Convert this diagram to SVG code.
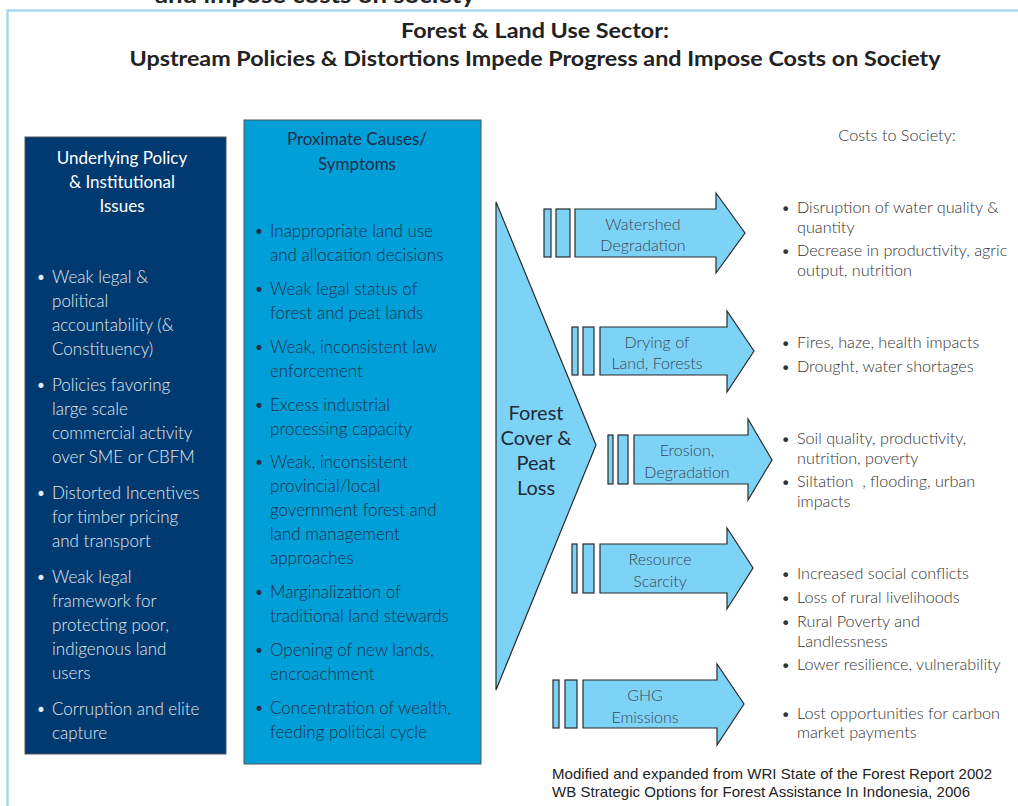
<svg xmlns="http://www.w3.org/2000/svg" width="1018" height="806" viewBox="0 0 1018 806">
<style>
  .ttl{font-family:Lato,"Liberation Sans",sans-serif;font-weight:700;fill:#222;}
  .lt{font-family:Lato,"Liberation Sans",sans-serif;font-weight:300;font-size:17px;fill:#e4e8ef;}
  .mt{font-family:Lato,"Liberation Sans",sans-serif;font-weight:300;font-size:17px;fill:#1c2e48;}
  .rt{font-family:Lato,"Liberation Sans",sans-serif;font-weight:300;font-size:16.2px;fill:#333;}
  .al{font-family:Lato,"Liberation Sans",sans-serif;font-weight:300;font-size:16px;fill:#3b4756;text-anchor:middle;}
  .fc{font-family:Lato,"Liberation Sans",sans-serif;font-weight:400;font-size:20px;fill:#1e2a36;text-anchor:middle;}
  .ft{font-family:"Liberation Sans",Arial,sans-serif;font-size:15px;fill:#222;}
  .shape{fill:#7dd3f6;stroke:#2a2a2a;stroke-width:1.2;}
  .frame{stroke:#a9d8ee;stroke-width:2.5;fill:none;}
</style>
<rect width="1018" height="806" fill="#ffffff"/>
<text class="ttl" x="155" y="3" font-size="22" textLength="320" lengthAdjust="spacingAndGlyphs">and impose costs on society</text>
<polyline class="frame" points="1018,10.5 7.5,10.5 7.5,806"/>
<text class="ttl" x="535" y="38" font-size="20" text-anchor="middle" textLength="268" lengthAdjust="spacingAndGlyphs">Forest &amp; Land Use Sector:</text>
<text class="ttl" x="535" y="66" font-size="21" text-anchor="middle" textLength="811" lengthAdjust="spacingAndGlyphs">Upstream Policies &amp; Distortions Impede Progress and Impose Costs on Society</text>

<g id="underlying">
  <rect x="25" y="137" width="201" height="617" fill="#003a70" stroke="#555" stroke-width="1"/>
  <g class="lt" text-anchor="middle" style="font-weight:400;fill:#ffffff">
    <text x="122" y="164">Underlying Policy</text>
    <text x="122" y="188">&amp; Institutional</text>
    <text x="122" y="212">Issues</text>
  </g>
  <g class="lt">
    <text x="36" y="283">•</text><text x="52" y="283">Weak legal &amp;</text>
    <text x="52" y="307">political</text>
    <text x="52" y="331">accountability (&amp;</text>
    <text x="52" y="355">Constituency)</text>
    <text x="36" y="391">•</text><text x="52" y="391">Policies favoring</text>
    <text x="52" y="415">large scale</text>
    <text x="52" y="439">commercial activity</text>
    <text x="52" y="463">over SME or CBFM</text>
    <text x="36" y="499">•</text><text x="52" y="499">Distorted Incentives</text>
    <text x="52" y="523">for timber pricing</text>
    <text x="52" y="547">and transport</text>
    <text x="36" y="583">•</text><text x="52" y="583">Weak legal</text>
    <text x="52" y="607">framework for</text>
    <text x="52" y="631">protecting poor,</text>
    <text x="52" y="655">indigenous land</text>
    <text x="52" y="679">users</text>
    <text x="36" y="715">•</text><text x="52" y="715">Corruption and elite</text>
    <text x="52" y="739">capture</text>
  </g>
</g>

<g id="proximate">
  <rect x="244" y="120" width="237" height="644" fill="#009fd8" stroke="#555" stroke-width="1"/>
  <g class="mt" text-anchor="middle" style="font-weight:400">
    <text x="357" y="145">Proximate Causes/</text>
    <text x="357" y="170">Symptoms</text>
  </g>
  <g class="mt">
    <text x="254" y="237">•</text><text x="270" y="237">Inappropriate land use</text>
    <text x="270" y="261">and allocation decisions</text>
    <text x="254" y="295">•</text><text x="270" y="295">Weak legal status of</text>
    <text x="270" y="319">forest and peat lands</text>
    <text x="254" y="353">•</text><text x="270" y="353">Weak, inconsistent law</text>
    <text x="270" y="377">enforcement</text>
    <text x="254" y="411">•</text><text x="270" y="411">Excess industrial</text>
    <text x="270" y="435">processing capacity</text>
    <text x="254" y="468">•</text><text x="270" y="468">Weak, inconsistent</text>
    <text x="270" y="492">provincial/local</text>
    <text x="270" y="516">government forest and</text>
    <text x="270" y="540">land management</text>
    <text x="270" y="564">approaches</text>
    <text x="254" y="598">•</text><text x="270" y="598">Marginalization of</text>
    <text x="270" y="622">traditional land stewards</text>
    <text x="254" y="656">•</text><text x="270" y="656">Opening of new lands,</text>
    <text x="270" y="680">encroachment</text>
    <text x="254" y="714">•</text><text x="270" y="714">Concentration of wealth,</text>
    <text x="270" y="738">feeding political cycle</text>
  </g>
</g>

<g id="forest-loss">
  <polygon class="shape" points="496,202 596,445 496,690"/>
  <text class="fc" x="536" y="420">Forest</text>
  <text class="fc" x="536" y="445">Cover &amp;</text>
  <text class="fc" x="536" y="470">Peat</text>
  <text class="fc" x="536" y="495">Loss</text>
</g>

<g id="connectors">
  <g id="arrow-watershed">
    <rect class="shape" x="544" y="209" width="7" height="48"/>
    <rect class="shape" x="556" y="209" width="14" height="48"/>
    <polygon class="shape" points="575,209 716,209 716,193 745,233 716,273 716,257 575,257"/>
    <text class="al" x="643" y="230">Watershed</text>
    <text class="al" x="643" y="251">Degradation</text>
  </g>
  <g id="arrow-drying">
    <rect class="shape" x="572" y="327" width="6" height="48"/>
    <rect class="shape" x="583" y="327" width="11" height="48"/>
    <polygon class="shape" points="600,327 727,327 727,311 754,351 727,392 727,375 600,375"/>
    <text class="al" x="657" y="348">Drying of</text>
    <text class="al" x="657" y="369">Land, Forests</text>
  </g>
  <g id="arrow-erosion">
    <rect class="shape" x="608" y="435" width="5" height="49"/>
    <rect class="shape" x="618" y="435" width="10" height="49"/>
    <polygon class="shape" points="634,435 748,435 748,419 772,460 748,500 748,484 634,484"/>
    <text class="al" x="687" y="456">Erosion,</text>
    <text class="al" x="687" y="478">Degradation</text>
  </g>
  <g id="arrow-resource">
    <rect class="shape" x="572" y="544" width="5" height="49"/>
    <rect class="shape" x="583" y="544" width="11" height="49"/>
    <polygon class="shape" points="600,544 727,544 727,528 753,568 727,609 727,593 600,593"/>
    <text class="al" x="660" y="565">Resource</text>
    <text class="al" x="660" y="587">Scarcity</text>
  </g>
  <g id="arrow-ghg">
    <rect class="shape" x="553" y="680" width="6" height="48"/>
    <rect class="shape" x="565" y="680" width="12" height="48"/>
    <polygon class="shape" points="583,680 717,680 717,664 744,704 717,745 717,728 583,728"/>
    <text class="al" x="645" y="701">GHG</text>
    <text class="al" x="645" y="723">Emissions</text>
  </g>
</g>

<g id="costs">
  <text class="rt" x="897" y="141" text-anchor="middle">Costs to Society:</text>
  <g class="rt">
    <text x="781" y="213">•</text><text x="797" y="213">Disruption of water quality &amp;</text>
    <text x="797" y="233">quantity</text>
    <text x="781" y="256">•</text><text x="797" y="256">Decrease in productivity, agric</text>
    <text x="797" y="276">output, nutrition</text>
    <text x="781" y="348">•</text><text x="797" y="348">Fires, haze, health impacts</text>
    <text x="781" y="372">•</text><text x="797" y="372">Drought, water shortages</text>
    <text x="781" y="444">•</text><text x="797" y="444">Soil quality, productivity,</text>
    <text x="797" y="464">nutrition, poverty</text>
    <text x="781" y="487">•</text><text x="797" y="487" xml:space="preserve">Siltation  , flooding, urban</text>
    <text x="797" y="507">impacts</text>
    <text x="781" y="579">•</text><text x="797" y="579">Increased social conflicts</text>
    <text x="781" y="603">•</text><text x="797" y="603">Loss of rural livelihoods</text>
    <text x="781" y="627">•</text><text x="797" y="627">Rural Poverty and</text>
    <text x="797" y="647">Landlessness</text>
    <text x="781" y="670">•</text><text x="797" y="670">Lower resilience, vulnerability</text>
    <text x="781" y="719">•</text><text x="797" y="719">Lost opportunities for carbon</text>
    <text x="797" y="738">market payments</text>
  </g>
</g>

<g id="source">
  <text class="ft" x="552" y="779" textLength="440">Modified and expanded from WRI State of the Forest Report 2002</text>
  <text class="ft" x="552" y="797" textLength="418">WB Strategic Options for Forest Assistance In Indonesia, 2006</text>
</g>
</svg>
